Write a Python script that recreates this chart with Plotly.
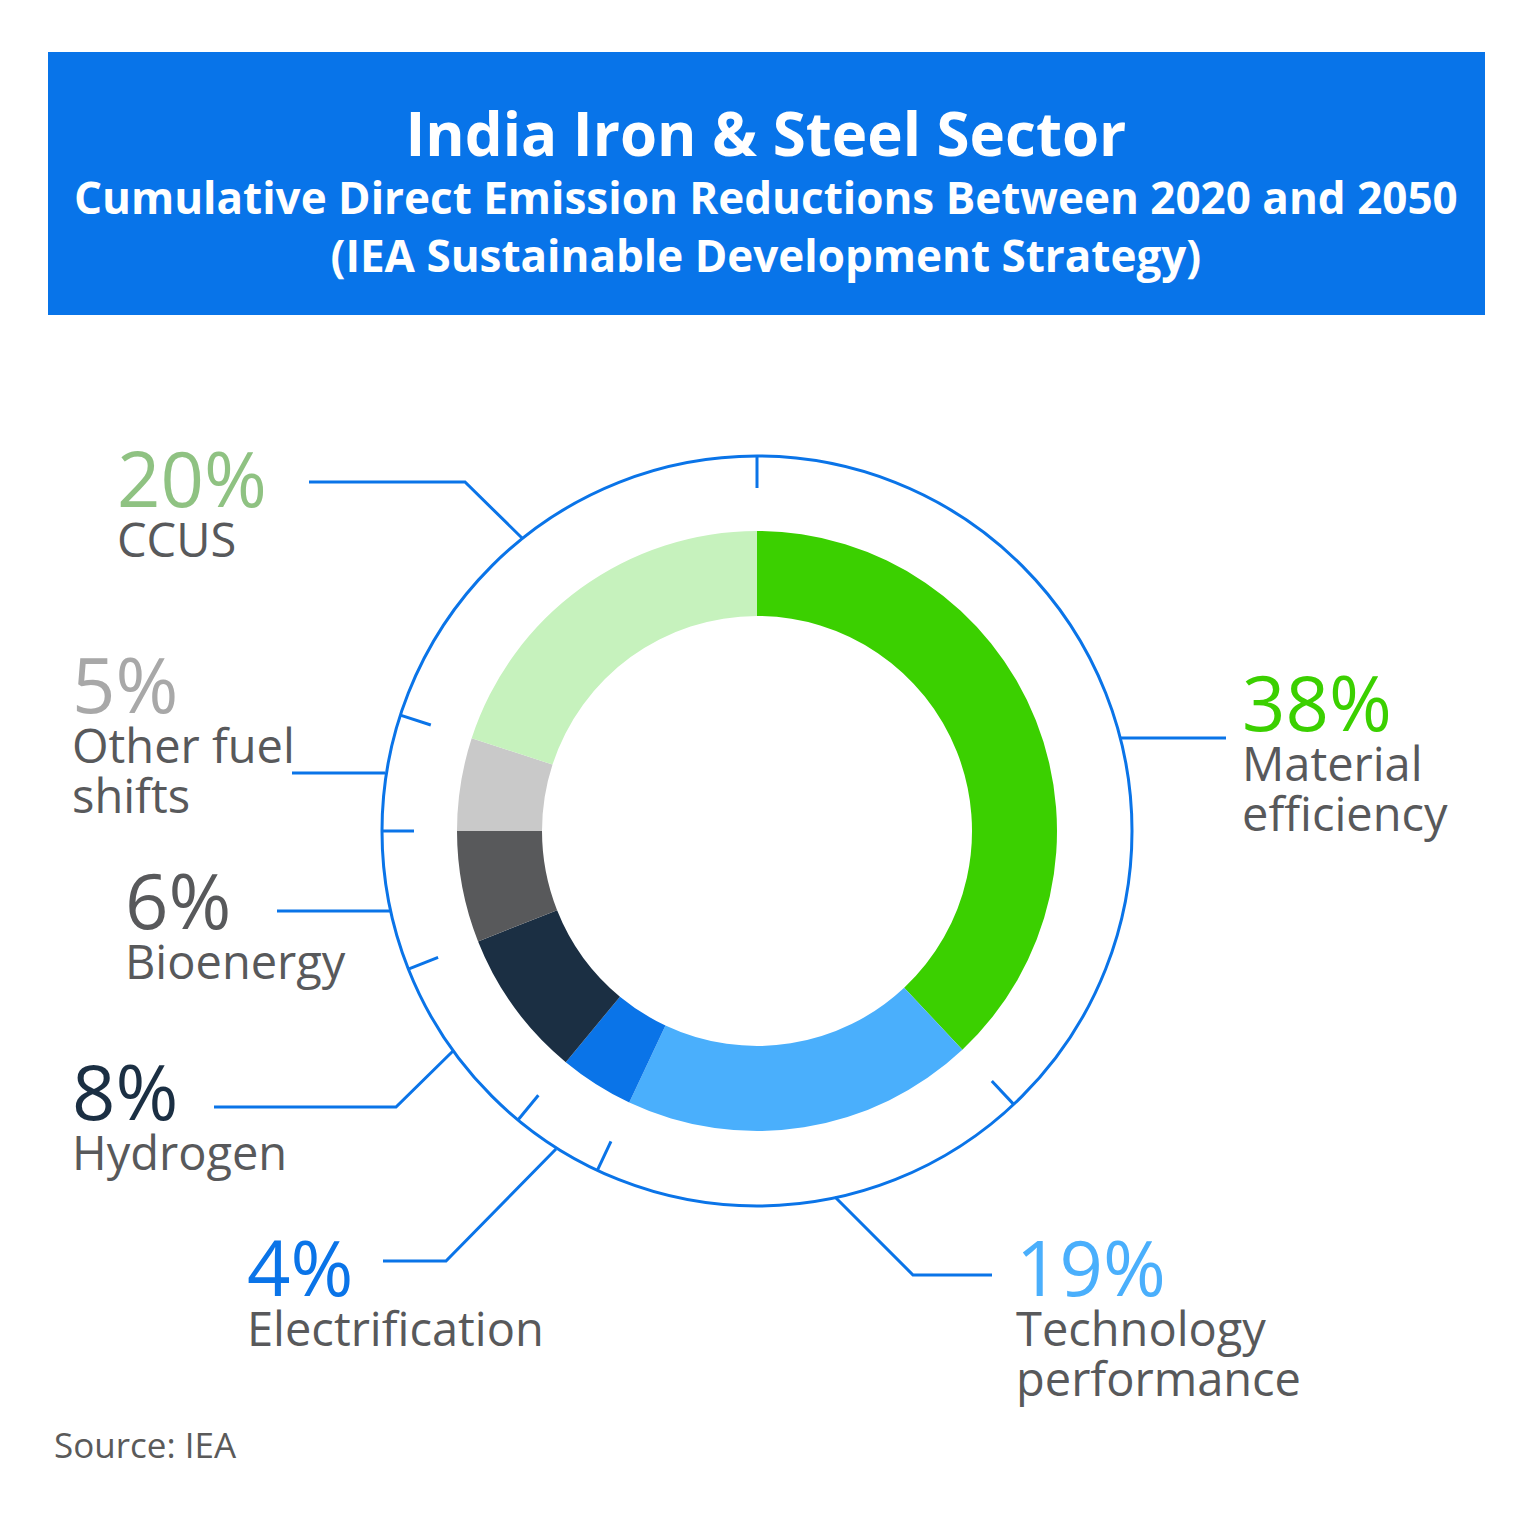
import math
import plotly.graph_objects as go

# ---------------- data ----------------
categories = ["Material efficiency", "Technology performance", "Electrification",
              "Hydrogen", "Bioenergy", "Other fuel shifts", "CCUS"]
shares = [38, 19, 4, 8, 6, 5, 20]
slice_colors = ["#3bd000", "#4aaffc", "#0a74e8", "#1b2f43", "#58595b", "#c9c9c9", "#c6f2bd"]
pct_colors = ["#3bd000", "#4aaffc", "#0a74e8", "#1b2f43", "#58595b", "#a8a8a8", "#8fc282"]
ZW = "\u200c"  # prevents the fi ligature
name_lines = [["Material", "ef" + ZW + "f" + ZW + "iciency"], ["Technology", "performance"],
              ["Electri" + "f" + ZW + "ication"], ["Hydrogen"], ["Bioenergy"],
              ["Other fuel", "shifts"], ["CCUS"]]

title_lines = ["India Iron & Steel Sector",
               "Cumulative Direct Emission Reductions Between 2020 and 2050",
               "(IEA Sustainable Development Strategy)"]
source_text = "Source: IEA"

# ---------------- layout constants (pixels) ----------------
W, H = 1535, 1530
CX, CY = 757, 831
R_OUT, R_IN = 300, 215
R_RING = 375
TICK_LEN = 32
BLUE = "#0a74e8"
GREY = "#58595b"
FONT = "Open Sans"

# label positions: left x, baseline of the percent
label_pos = [(1244, 730), (1018, 1295), (249, 1295), (74, 1119), (127, 928), (74, 712), (119, 506)]
# leader polylines (from ring outwards)
leaders = [
    [(1120, 738), (1226, 738)],
    [(835, 1197), (913, 1275), (992, 1275)],
    [(556, 1149), (446, 1261), (383, 1261)],
    [(453, 1051), (396, 1107), (214, 1107)],
    [(390, 911), (277, 911)],
    [(385, 773), (292, 773)],
    [(522, 538), (465, 482), (309, 482)],
]

PCT_SIZE = 76
NAME_SIZE = 47
LINE_GAP = 50
ASC = 1.069  # Open Sans ascent / em

fig = go.Figure()

# donut
fig.add_trace(go.Pie(
    labels=categories, values=shares, sort=False, direction="clockwise", rotation=0,
    hole=R_IN / R_OUT, marker=dict(colors=slice_colors, line=dict(width=0)),
    textinfo="none", hoverinfo="skip", showlegend=False,
    domain=dict(x=[(CX - R_OUT) / W, (CX + R_OUT) / W],
                y=[1 - (CY + R_OUT) / H, 1 - (CY - R_OUT) / H]),
))

# invisible cartesian trace to establish pixel axes
fig.add_trace(go.Scatter(x=[0, W], y=[0, H], mode="markers", marker=dict(opacity=0),
                         hoverinfo="skip", showlegend=False))

shapes = []
# header box
shapes.append(dict(type="rect", xref="x", yref="y", x0=48, x1=1485, y0=52, y1=315,
                   fillcolor="#0874e9", line=dict(width=0), layer="below"))
# outer ring
shapes.append(dict(type="circle", xref="x", yref="y", x0=CX - R_RING, x1=CX + R_RING,
                   y0=CY - R_RING, y1=CY + R_RING, line=dict(color=BLUE, width=3)))
# ticks at slice boundaries
total = sum(shares)
cum = 0
for s in shares:
    ang = 2 * math.pi * cum / total
    x0 = CX + R_RING * math.sin(ang)
    y0 = CY - R_RING * math.cos(ang)
    x1 = CX + (R_RING - TICK_LEN) * math.sin(ang)
    y1 = CY - (R_RING - TICK_LEN) * math.cos(ang)
    shapes.append(dict(type="line", xref="x", yref="y", x0=x0, y0=y0, x1=x1, y1=y1,
                       line=dict(color=BLUE, width=3)))
    cum += s
# leader lines
for pts in leaders:
    path = "M " + " L ".join(f"{px},{py}" for px, py in pts)
    shapes.append(dict(type="path", xref="x", yref="y", path=path,
                       line=dict(color=BLUE, width=3)))

ann = []
for i, cat in enumerate(categories):
    lx, lb = label_pos[i]
    parts = [f"<span style='font-size:{PCT_SIZE}px;color:{pct_colors[i]}'>{shares[i]}%</span>"]
    parts += [f"<span style='font-size:{NAME_SIZE}px'>{ln}</span>" for ln in name_lines[i]]
    ann.append(dict(xref="x", yref="y", x=lx - 4, y=lb - ASC * PCT_SIZE - 1,
                    text="<br>".join(parts), showarrow=False, align="left",
                    xanchor="left", yanchor="top",
                    font=dict(family=FONT, size=LINE_GAP / 1.3, color=GREY)))

# titles
TITLE_SIZE = 60
SUB_SIZE = 44
title_text = (f"<b><span style='font-size:{TITLE_SIZE}px'>{title_lines[0]}</span></b><br>"
              f"<b><span style='font-size:{SUB_SIZE}px'>{title_lines[1]}</span></b><br>"
              f"<b><span style='font-size:{SUB_SIZE}px'>{title_lines[2]}</span></b>")
ann.append(dict(xref="x", yref="y", x=766, y=155 - ASC * TITLE_SIZE - 1, text=title_text,
                showarrow=False, align="center", xanchor="center", yanchor="top",
                font=dict(family=FONT, size=58 / 1.3, color="white")))
# source
ann.append(dict(xref="x", yref="y", x=52, y=1457 - ASC * 35 - 1, text=source_text,
                showarrow=False, xanchor="left", yanchor="top",
                font=dict(family=FONT, size=35, color="#5a5a5a")))

fig.update_layout(
    width=W, height=H, margin=dict(l=0, r=0, t=0, b=0),
    paper_bgcolor="white", plot_bgcolor="white",
    xaxis=dict(range=[0, W], domain=[0, 1], visible=False, fixedrange=True),
    yaxis=dict(range=[H, 0], domain=[0, 1], visible=False, fixedrange=True),
    shapes=shapes, annotations=ann, showlegend=False,
)

fig.write_html("out.html")
